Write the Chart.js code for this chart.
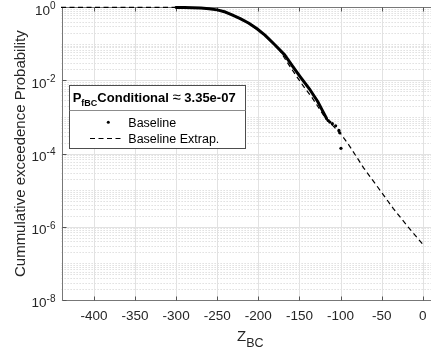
<!DOCTYPE html>
<html>
<head>
<meta charset="utf-8">
<script src="https://cdn.jsdelivr.net/npm/chart.js@4.4.1/dist/chart.umd.min.js"></script>
<style>
  html, body { margin:0; padding:0; background:#fff; }
  #wrap { position:relative; width:435px; height:350px; }
</style>
</head>
<body>
<div id="wrap"><canvas id="c" width="435" height="350"></canvas></div>
<script>
// -- data --
const baselineZ = [-300, -290, -280, -270, -260, -250, -240, -232, -222, -212, -202, -192, -180, -168, -158, -149, -137, -128, -122, -117];
const baselineP = [0.995, 0.989, 0.977, 0.955, 0.912, 0.851, 0.741, 0.617, 0.490, 0.372, 0.263, 0.174, 0.095, 0.0501, 0.024, 0.0126, 0.0055, 0.0027, 0.0015, 9.1e-4];
const tailZ = [-115, -113, -110, -106, -102, -101, -99.5];
const tailP = [8.0e-4, 7.3e-4, 6.6e-4, 5.75e-4, 4.3e-4, 3.7e-4, 1.4e-4];
const extrapZ = [-440, -300, -260, -250, -232, -212, -190, -175, -165, -155, -145, -135, -125, -118, -110, -100, -90, -72, -54, -36, -18, 0];
const extrapP = [1, 0.995, 0.912, 0.851, 0.617, 0.372, 0.157, 0.0725, 0.0316, 0.0145, 0.0069, 0.00347, 0.00158, 9.1e-4, 6.0e-4, 3.55e-4, 1.74e-4, 4.1e-5, 1.15e-5, 3.2e-6, 1.0e-6, 3.35e-7];

const xTicks = [-400, -350, -300, -250, -200, -150, -100, -50, 0];
const yTickExps = [0, -2, -4, -6, -8];
const legendLabels = ['Baseline', 'Baseline Extrap.'];
const legendTitle = { base: 'P', sub: 'fBC', text: 'Conditional', approx: '\u2248', value: '3.35e-07' };
const yTitle = 'Cummulative exceedence Probability';
const xTitle = { base: 'Z', sub: 'BC' };

const FONT = "'Liberation Sans', Arial, sans-serif";
const toPts = (xs, ys) => xs.map((x, i) => ({ x, y: ys[i] }));

function seg(ctx, x1, y1, x2, y2) {
  ctx.beginPath(); ctx.moveTo(x1, y1); ctx.lineTo(x2, y2); ctx.stroke();
}

// matlab-ish axes: grid, box, ticks, labels, legend
const matlabAxes = {
  id: 'matlabAxes',
  beforeDatasetsDraw(chart) {
    const { ctx, chartArea: a, scales: { x, y } } = chart;
    ctx.save();
    ctx.lineWidth = 1;
    // minor y grid, dotted
    ctx.strokeStyle = '#cfcfcf';
    ctx.setLineDash([1, 2]);
    for (let e = -8; e < 0; e++) {
      for (let k = 1; k < 10; k++) {
        if (k === 1 && e % 2 === 0) continue;
        const py = Math.round(y.getPixelForValue(k * Math.pow(10, e))) + 0.5;
        seg(ctx, a.left, py, a.right, py);
      }
    }
    // major grid
    ctx.setLineDash([]);
    ctx.strokeStyle = '#e2e2e2';
    xTicks.forEach(v => {
      const px = Math.round(x.getPixelForValue(v)) + 0.5;
      seg(ctx, px, a.top, px, a.bottom);
    });
    yTickExps.forEach(e => {
      const py = Math.round(y.getPixelForValue(Math.pow(10, e))) + 0.5;
      seg(ctx, a.left, py, a.right, py);
    });

    // box
    ctx.strokeStyle = '#777';
    const L = Math.round(a.left) + 0.5, T = Math.round(a.top) + 0.5, B = Math.round(a.bottom) + 0.5;
    seg(ctx, L, T, a.right, T);
    seg(ctx, L, B, a.right, B);
    seg(ctx, L, T, L, B);
    // ticks
    ctx.strokeStyle = '#555';
    xTicks.forEach(v => {
      const px = Math.round(x.getPixelForValue(v)) + 0.5;
      seg(ctx, px, B, px, B - 4);
      seg(ctx, px, T, px, T + 4);
    });
    yTickExps.forEach(e => {
      const py = Math.round(y.getPixelForValue(Math.pow(10, e))) + 0.5;
      seg(ctx, L, py, L + 4, py);
    });
    ctx.restore();
  },
  afterDraw(chart) {
    const { ctx, chartArea: a, scales: { x, y } } = chart;
    ctx.save();
    // tick labels
    ctx.fillStyle = '#262626';
    ctx.textBaseline = 'alphabetic';
    ctx.font = `13.5px ${FONT}`;
    ctx.textAlign = 'center';
    xTicks.forEach(v => ctx.fillText(String(v), x.getPixelForValue(v), a.bottom + 20.4));

    yTickExps.forEach(e => {
      const py = y.getPixelForValue(Math.pow(10, e));
      const sup = String(e);
      ctx.font = `10px ${FONT}`;
      const sw = ctx.measureText(sup).width;
      ctx.textAlign = 'right';
      ctx.fillText(sup, 55.5, py + 1.8);
      ctx.font = `13.5px ${FONT}`;
      ctx.fillText('10', 55.5 - sw, py + 7.3);
    });

    // axis titles
    ctx.font = `15px ${FONT}`;
    ctx.textAlign = 'center';
    ctx.save();
    ctx.translate(24.5, (a.top + a.bottom) / 2);
    ctx.rotate(-Math.PI / 2);
    ctx.fillText(yTitle, 0, 0);
    ctx.restore();

    ctx.textAlign = 'left';
    ctx.font = `15px ${FONT}`;
    const zw = ctx.measureText(xTitle.base).width;
    ctx.font = `12.5px ${FONT}`;
    const bw = ctx.measureText(xTitle.sub).width;
    const x0 = (a.left + a.right) / 2 + 4 - (zw + bw) / 2;
    ctx.font = `15px ${FONT}`;
    ctx.fillText(xTitle.base, x0, 341);
    ctx.font = `12.5px ${FONT}`;
    ctx.fillText(xTitle.sub, x0 + zw, 347);

    drawLegend(ctx);
    ctx.restore();
  }
};

function drawLegend(ctx) {
  const L = 69.5, T = 85.5, R = 245.5, B = 148.5, S = 110.5;
  ctx.fillStyle = '#fff';
  ctx.fillRect(L, T, R - L, B - T);
  ctx.strokeStyle = '#4d4d4d';
  ctx.lineWidth = 1;
  ctx.setLineDash([]);
  ctx.strokeRect(L, T, R - L, B - T);
  ctx.strokeStyle = '#8c8c8c';
  seg(ctx, L, S, R, S);

  // title
  ctx.fillStyle = '#000';
  ctx.textAlign = 'left';
  ctx.textBaseline = 'alphabetic';
  let cx = 72.7;
  const put = (txt, font, dy) => { ctx.font = font; ctx.fillText(txt, cx, 101.7 + dy); cx += ctx.measureText(txt).width; };
  put(legendTitle.base, `bold 13px ${FONT}`, 0);
  put(legendTitle.sub, `bold 9px ${FONT}`, 4);
  put(legendTitle.text + ' ', `bold 13px ${FONT}`, 0);
  put(legendTitle.approx, `15px ${FONT}`, 0);
  put(' ' + legendTitle.value, `bold 13px ${FONT}`, 0);

  // entries
  ctx.font = `12.5px ${FONT}`;
  ctx.fillText(legendLabels[0], 128.3, 127.3);
  ctx.fillText(legendLabels[1], 128.3, 143.2);
  ctx.beginPath();
  ctx.arc(108.3, 122.3, 1.5, 0, Math.PI * 2);
  ctx.fill();
  ctx.strokeStyle = '#000';
  ctx.lineWidth = 1.2;
  ctx.setLineDash([5, 3.5]);
  seg(ctx, 90, 138.5, 124, 138.5);
  ctx.setLineDash([]);
}

new Chart(document.getElementById('c'), {
  type: 'scatter',
  data: {
    datasets: [
      { label: legendLabels[1], data: toPts(extrapZ, extrapP), showLine: true, borderColor: '#000', borderWidth: 1.2,
        borderDash: [5, 3.5], pointRadius: 0, tension: 0, clip: 3, order: 2 },
      { label: legendLabels[0], data: toPts(baselineZ, baselineP), showLine: true, borderColor: '#000', borderWidth: 3,
        pointRadius: 0, tension: 0, borderJoinStyle: 'round', borderCapStyle: 'round', clip: 3, order: 1 },
      { label: legendLabels[0] + ' tail', data: toPts(tailZ, tailP), showLine: false, backgroundColor: '#000',
        borderWidth: 0, pointRadius: 1.6, clip: 3, order: 0 }
    ]
  },
  options: {
    responsive: false,
    animation: false,
    devicePixelRatio: 1,
    layout: { padding: { top: 7.3, right: 0, left: 0, bottom: 0 } },
    plugins: { legend: { display: false }, tooltip: { enabled: false } },
    scales: {
      x: { type: 'linear', min: -439.3, max: 10,
           ticks: { display: false }, grid: { display: false }, border: { display: false },
           afterFit: s => { s.height = 50; } },
      y: { type: 'logarithmic', min: 1e-8, max: 1,
           ticks: { display: false }, grid: { display: false }, border: { display: false },
           afterFit: s => { s.width = 61.6; } }
    }
  },
  plugins: [matlabAxes]
});
</script>
</body>
</html>
